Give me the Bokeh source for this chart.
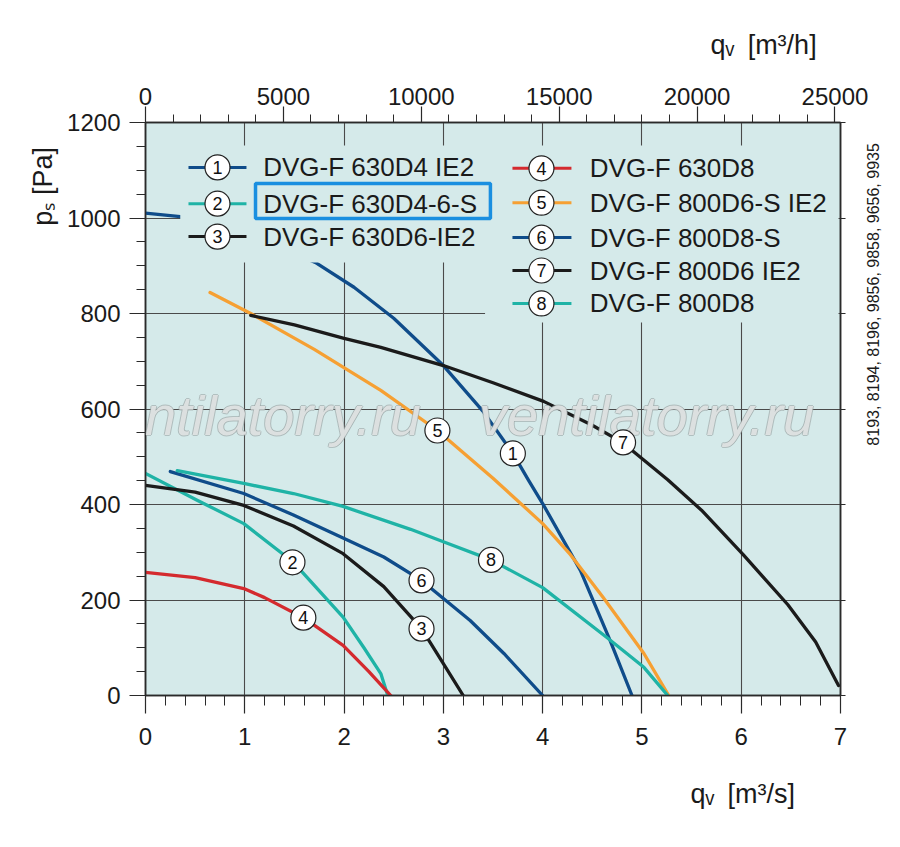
from math import pi

from bokeh.core.properties import value
from bokeh.embed import file_html
from bokeh.models import FixedTicker, Label, LinearAxis, Range1d
from bokeh.plotting import figure
from bokeh.resources import INLINE

# fan curves: q_v in m3/s, p_s in Pa
q1 = [0, 0.35, 1.0, 1.71, 2.1, 2.5, 3.0, 3.4, 3.7, 3.86, 4.0, 4.38, 4.68, 4.9]
p1 = [1010, 1003, 970, 907, 855, 790, 691, 595, 507, 450, 402, 262, 115, 0]
q2 = [0, 0.52, 0.99, 1.49, 1.99, 2.2, 2.37, 2.44]
p2 = [465, 409, 360, 279, 164, 100, 46, 0]
q3 = [0, 0.5, 0.99, 1.49, 1.99, 2.4, 2.78, 3.0, 3.2]
p3 = [440, 426, 398, 355, 297, 228, 140, 67, 0]
q4 = [0, 0.5, 0.99, 1.2, 1.59, 1.99, 2.25, 2.47]
p4 = [258, 247, 224, 205, 163, 105, 50, 0]
q5 = [0.65, 1.06, 1.7, 2.37, 2.94, 3.5, 4.0, 4.28, 4.61, 5.02, 5.27]
p5 = [844, 800, 725, 639, 555, 455, 360, 295, 205, 88, 0]
q6 = [0.25, 0.99, 1.49, 1.99, 2.4, 2.78, 3.27, 3.61, 4.0]
p6 = [469, 423, 378, 330, 290, 241, 157, 88, 0]
q7 = [1.06, 1.5, 2.0, 2.37, 3.0, 3.5, 4.01, 4.5, 4.81, 5.26, 5.6, 6.02, 6.47, 6.75, 6.98]
p7 = [796, 776, 748, 729, 691, 655, 616, 566, 529, 452, 388, 295, 190, 112, 21]
q8 = [0.32, 0.99, 1.49, 1.99, 2.67, 3.0, 3.48, 4.0, 4.65, 5.02, 5.26]
p8 = [471, 444, 423, 396, 348, 322, 284, 226, 121, 59, 0]

curve_numbers = ["1", "2", "3", "4", "5", "6", "7", "8"]
curve_names = ["DVG-F 630D4 IE2", "DVG-F 630D4-6-S", "DVG-F 630D6-IE2",
               "DVG-F 630D8", "DVG-F 800D6-S IE2", "DVG-F 800D8-S",
               "DVG-F 800D6 IE2", "DVG-F 800D8"]
# where the numbered circles sit on the curves
tag_q = [3.70, 1.48, 2.78, 1.59, 2.94, 2.78, 4.81, 3.48]
tag_p = [507, 279, 140, 163, 555, 241, 530, 284]

x_ticks = [0, 1, 2, 3, 4, 5, 6, 7]
x_minor = [i / 5 for i in range(36)]
y_ticks = [0, 200, 400, 600, 800, 1000, 1200]
y_minor = list(range(0, 1201, 50))
mh_ticks = [0, 5000, 10000, 15000, 20000, 25000]
mh_minor = list(range(0, 25001, 1000))
type_numbers = "8193, 8194, 8196, 9856, 9858, 9656, 9935"
watermark = "ventilatorry.ru"

BLUE = "#0f4c8a"
TEAL = "#1fb3a6"
BLACK = "#1b1b1b"
RED = "#d42a2e"
ORANGE = "#f6a033"
BG = "#d5eaea"
colors = [BLUE, TEAL, BLACK, RED, ORANGE, BLUE, BLACK, TEAL]
FONT = "Liberation Sans"

p = figure(width=884, height=831, x_range=Range1d(0, 7), y_range=Range1d(0, 1200),
           output_backend="svg", toolbar_location=None,
           min_border_left=145, min_border_right=44,
           min_border_top=122, min_border_bottom=136)
p.background_fill_color = BG
p.border_fill_color = "white"
p.outline_line_color = "#2a2a2a"
p.outline_line_width = 1.5

xa, ya = p.below[0], p.left[0]
p.extra_x_ranges = {"mh": Range1d(0, 7 * 3600)}
top = LinearAxis(x_range_name="mh")
p.add_layout(top, "above")
right = LinearAxis()
p.add_layout(right, "right")

xa.ticker = FixedTicker(ticks=x_ticks, minor_ticks=x_minor)
ya.ticker = FixedTicker(ticks=y_ticks, minor_ticks=y_minor)
top.ticker = FixedTicker(ticks=mh_ticks, minor_ticks=mh_minor)
right.ticker = FixedTicker(ticks=y_ticks, minor_ticks=[])
right.major_label_overrides = {t: "" for t in y_ticks}

for ax in (xa, ya, top, right):
    ax.axis_line_color = "#2a2a2a"
    ax.axis_line_width = 1.5
    ax.major_tick_line_color = "#2a2a2a"
    ax.minor_tick_line_color = "#2a2a2a"
    ax.major_tick_line_width = 1.2
    ax.minor_tick_line_width = 1
    ax.major_tick_in = 0
    ax.minor_tick_in = 0
    ax.major_label_text_font = FONT
    ax.major_label_text_font_size = "24px"
    ax.major_label_text_color = "#1a1a1a"

xa.major_tick_out, xa.minor_tick_out, xa.major_label_standoff = 18, 10, 14
ya.major_tick_out, ya.minor_tick_out, ya.major_label_standoff = 16, 9, 9
top.major_tick_out, top.minor_tick_out, top.major_label_standoff = 16, 8, 2
right.major_tick_out, right.minor_tick_out, right.major_label_standoff = 5, 0, 0

p.grid.grid_line_color = "#4a4a4a"
p.grid.grid_line_width = 1.1
p.xgrid.ticker = FixedTicker(ticks=x_ticks)
p.ygrid.ticker = FixedTicker(ticks=y_ticks)

curves = [(q1, p1), (q2, p2), (q3, p3), (q4, p4), (q5, p5), (q6, p6), (q7, p7), (q8, p8)]
for (qs, ps), c in zip(curves, colors):
    p.line(qs, ps, line_color=c, line_width=3.3, line_join="round", line_cap="round")

# legend panels cover grid and the hidden part of curve 1
p.quad(left=[0.35, 3.42], right=[3.42, 6.98], bottom=[907, 781], top=[1152, 1152],
       fill_color=BG, line_color=None)

row_p = [1106, 1030, 961, 1104, 1032, 959, 890, 821]
col_x0 = [0.433] * 3 + [3.696] * 5
col_x1 = [1.017] * 3 + [4.29] * 5
col_c = [0.725] * 3 + [3.988] * 5
col_t = [1.185] * 3 + [4.475] * 5

p.segment(x0=col_x0, y0=row_p, x1=col_x1, y1=row_p, line_color=colors, line_width=3)
p.text(x=col_t, y=row_p, text=curve_names, text_font=value(FONT), text_font_size="26px",
       text_color="#1a1a1a", text_baseline="middle", text_align="left")

# highlighted entry
p.quad(left=[1.108], right=[3.474], bottom=[999], top=[1072], fill_color=None,
       line_color="#1a8fe0", line_width=3.5)

for xs, ys in ((col_c, row_p), (tag_q, tag_p)):
    p.scatter(xs, ys, marker="circle", size=25, fill_color="white",
              line_color="#222222", line_width=1.2, level="overlay")
    p.text(x=xs, y=ys, text=curve_numbers, text_font=value(FONT), text_font_size="18px",
           text_color="#111111", text_align="center", text_baseline="middle",
           level="overlay")

# watermark, outlined look
for wx in (-0.60, 3.36):
    for dx, dy in ((-1, 0), (1, 0), (0, -1), (0, 1)):
        p.add_layout(Label(x=wx, y=521, text=watermark, text_font=FONT,
                           text_font_size="56px", text_font_style="italic",
                           text_color="#9aa3a3", text_alpha=0.6,
                           x_offset=dx, y_offset=dy))
    p.add_layout(Label(x=wx, y=521, text=watermark, text_font=FONT,
                       text_font_size="56px", text_font_style="italic",
                       text_color="white", text_alpha=0.65))


def side_label(side, x, y, text, size="27px", angle=0, align="left"):
    # labels outside the frame go in a side panel so that they are not clipped
    p.add_layout(Label(x=x, y=y, text=text, angle=angle, text_font=FONT,
                       text_font_size=size, text_color="#1a1a1a", text_align=align,
                       text_baseline="alphabetic"), side)


side_label("below", 5.488, -207, "q\u1d65\u2002[m\u00b3/s]")
side_label("above", 5.690, 1362, "q\u1d65\u2002[m\u00b3/h]")
side_label("left", -1.037, 984, "p\u209b [Pa]", size="27px", angle=pi / 2)
side_label("right", 7.33, 840, type_numbers, size="16px", angle=pi / 2, align="center")

open("out.html", "w").write(file_html(p, INLINE))
